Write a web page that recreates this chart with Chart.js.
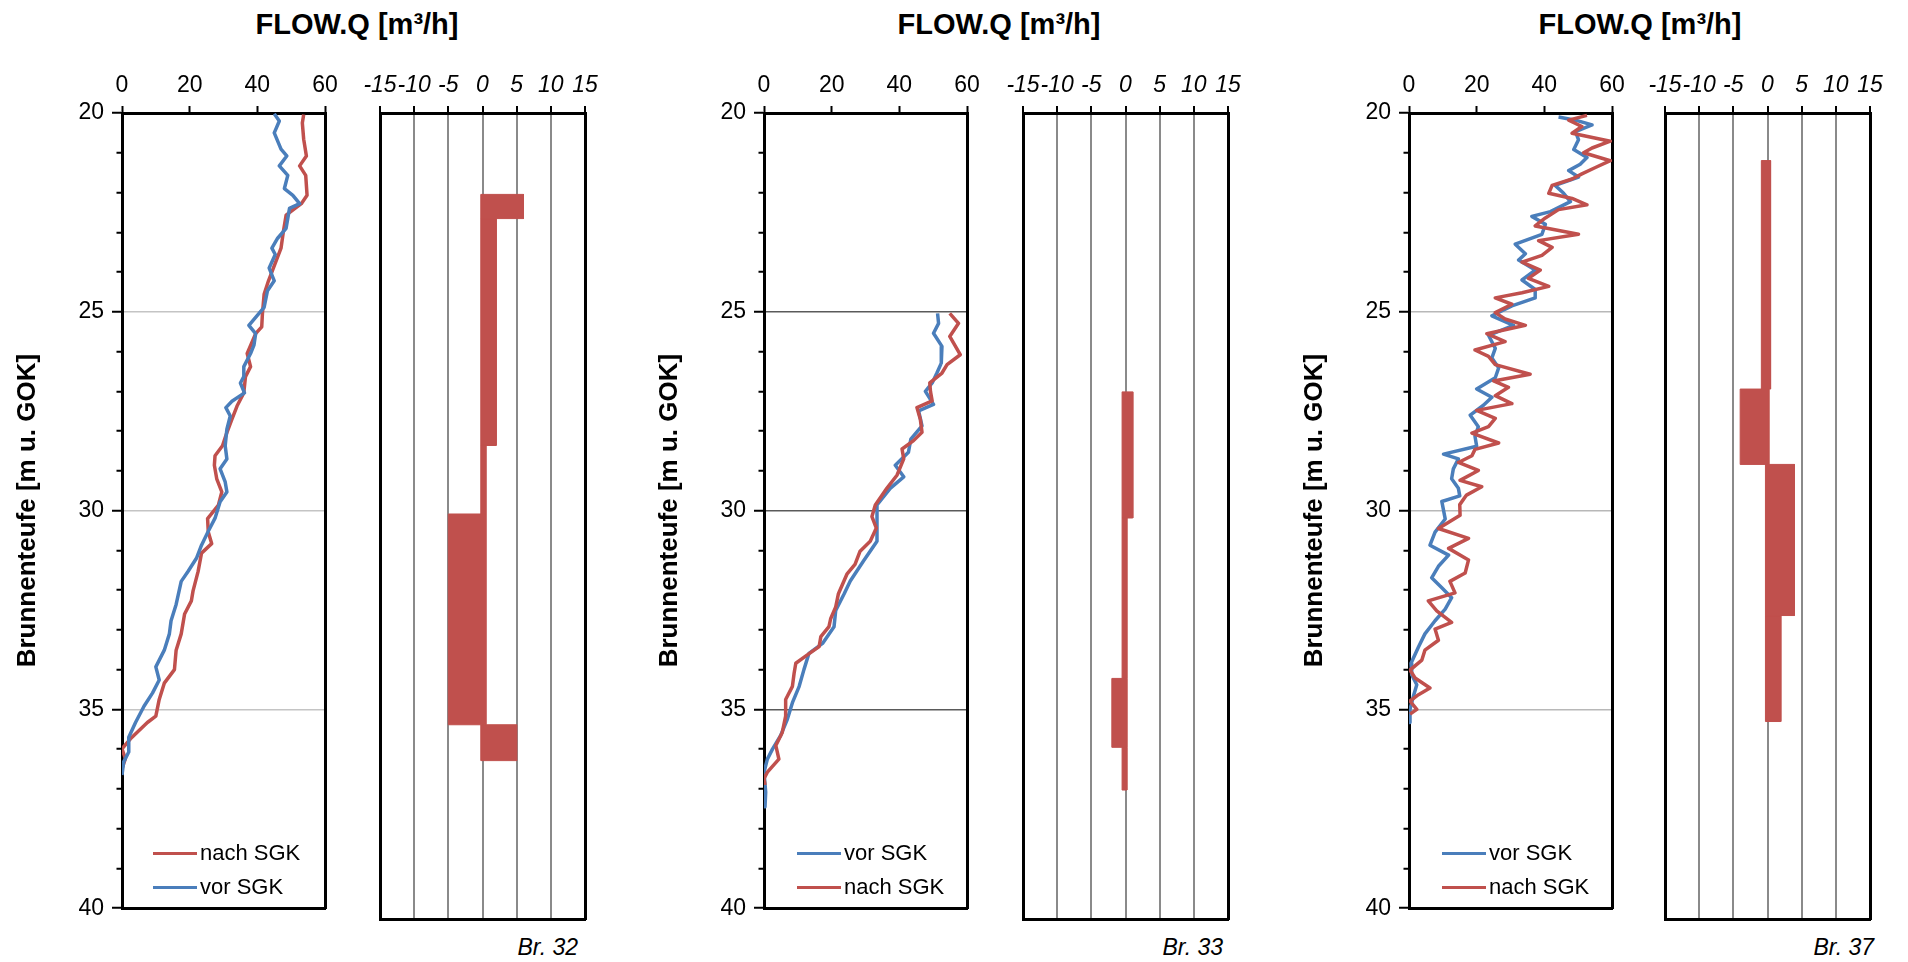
<!DOCTYPE html>
<html>
<head>
<meta charset="utf-8">
<script src="https://cdn.jsdelivr.net/npm/chart.js@4.4.1/dist/chart.umd.min.js"></script>
<style>
    body { margin: 0; background: #fff; width: 1908px; height: 962px; position: relative; overflow: hidden;
           font-family: 'Liberation Sans', Arial, sans-serif; color: #000; }
    canvas { position: absolute; top: 50px; }
    .title { position: absolute; top: 8px; font-weight: bold; font-size: 29px; transform: translateX(-50%); white-space: nowrap; }
    .legend { position: absolute; top: 836px; font-size: 22px; }
    .legend div { display: flex; align-items: center; height: 34px; }
    .legend .sw { display: inline-block; width: 44px; height: 3px; margin-right: 3px; }
    .br { position: absolute; top: 934px; font-size: 23px; font-style: italic; transform: translateX(-100%); white-space: nowrap; }
</style>
</head>
<body>
<script>
// tick labels
const depthTicks = [20, 25, 30, 35, 40];
const flowTicks = [0, 20, 40, 60];
const diffTicks = [-15, -10, -5, 0, 5, 10, 15];

// Br. 32 - FLOW.Q profiles (depth in m, flow in m3/h)
const br32NachDepth = [20.04, 20.25, 20.66, 21.08, 21.33, 21.57, 22.07, 22.28, 22.57, 22.98, 23.4, 23.73, 24.22, 24.56, 25.05, 25.38, 25.55, 26.05, 26.38, 26.63, 27.04, 27.37, 27.7, 28.04, 28.37, 28.62, 28.86, 29.2, 29.53, 29.86, 30.2, 30.54, 30.83, 31.07, 31.53, 32.02, 32.27, 32.6, 33.1, 33.51, 34.0, 34.34, 34.75, 35.17, 35.33, 35.74, 35.99, 36.24, 36.49];
const br32NachFlow = [53.7, 53.3, 53.7, 54.5, 52.5, 54.3, 54.7, 53, 48.5, 47.7, 47, 45.5, 43.3, 42, 41.5, 41.3, 39.5, 37, 38, 36.5, 36, 34, 32.5, 31, 29.7, 27.5, 27.3, 28, 29.5, 28.5, 25.3, 25.5, 26.5, 23.5, 22.5, 21, 20.5, 18.5, 17.5, 16, 15.5, 12.5, 11, 10, 7.5, 2.5, 0, 1, 0];
const br32VorDepth = [20.02, 20.2, 20.5, 20.91, 21.08, 21.33, 21.57, 21.9, 22.07, 22.28, 22.4, 22.65, 22.9, 23.15, 23.4, 23.56, 23.9, 24.22, 24.47, 24.89, 25.14, 25.34, 25.55, 25.84, 26.05, 26.38, 26.63, 26.79, 27.04, 27.25, 27.41, 27.62, 27.95, 28.37, 28.7, 28.95, 29.28, 29.53, 29.78, 30.19, 30.52, 30.87, 31.2, 31.53, 31.78, 32.36, 32.77, 33.1, 33.51, 33.93, 34.26, 34.59, 34.92, 35.33, 35.7, 36.07, 36.32, 36.65];
const br32VorFlow = [45, 46.5, 45, 47, 48.7, 46.5, 49, 48, 50.5, 52.5, 49.5, 49, 48.5, 46, 44.3, 45.3, 43.5, 45, 43, 42, 39.5, 37.5, 39.5, 39, 38, 36, 36, 35, 36.2, 32.5, 30.7, 32, 31, 30.5, 31, 29, 30.5, 31, 29, 27.5, 25.5, 23.5, 22, 19.5, 17.5, 16, 14.5, 14, 12.5, 10, 11, 9, 6.5, 4, 2, 2, 0.5, 0];
// Br. 32 - flow difference per depth interval
const br32DiffTop = [22.02, 22.62, 28.25, 29.95, 35.18];
const br32DiffBottom = [22.62, 28.25, 29.95, 35.18, 36.07];
const br32DiffLow = [-0.25, -0.25, -0.25, -5.0, -0.25];
const br32DiffHigh = [6.0, 2.0, 0.5, 0.5, 5.0];

// Br. 33
const br33VorDepth = [25.04, 25.29, 25.54, 25.87, 26.29, 26.54, 26.79, 27.0, 27.33, 27.49, 27.87, 28.2, 28.53, 28.86, 29.15, 29.44, 29.86, 30.27, 30.77, 31.27, 31.77, 32.09, 32.51, 32.92, 33.34, 33.59, 34.0, 34.42, 34.83, 35.25, 35.66, 36.0, 36.25, 36.58, 37.08, 37.45];
const br33VorFlow = [51.3, 51.6, 50.1, 52.6, 52.4, 51.1, 49.7, 47.7, 50.1, 45.7, 46.7, 43.4, 42.7, 38.8, 41.3, 37.3, 33.4, 33.4, 33.4, 29.4, 25.5, 23.7, 21.2, 20.7, 17.3, 13.3, 11.8, 10.4, 8.4, 6.9, 4.9, 2.5, 1, 0, 0.5, 0.3];
const br33NachDepth = [25.04, 25.29, 25.62, 26.08, 26.33, 26.54, 26.79, 27.0, 27.24, 27.41, 27.7, 28.03, 28.24, 28.45, 28.7, 29.11, 29.44, 29.86, 30.15, 30.44, 30.77, 31.02, 31.35, 31.6, 32.09, 32.42, 32.72, 32.92, 33.17, 33.42, 33.63, 33.84, 34.09, 34.42, 34.75, 35.17, 35.58, 35.91, 36.25, 36.58, 36.74, 36.9];
const br33NachFlow = [54.9, 57.5, 54.9, 58, 54.1, 52.6, 49, 49.2, 49.7, 45.2, 46.2, 46.7, 44.2, 40.8, 41.3, 39.3, 36.3, 32.9, 31.9, 33.2, 31.4, 28.4, 26.9, 24.5, 22, 21.2, 19.7, 19.2, 16.8, 16.3, 12.8, 9.4, 8.9, 8.4, 6.4, 6.4, 5.4, 3.5, 4.4, 1, 0, 0.3];
const br33DiffTop = [26.92, 30.05, 34.03, 35.74];
const br33DiffBottom = [30.05, 34.03, 35.74, 36.8];
const br33DiffLow = [-0.5, -0.5, -2.0, -0.5];
const br33DiffHigh = [1.07, 0.2, 0.2, 0.2];

// Br. 37
const br37VorDepth = [20.1, 20.18, 20.3, 20.47, 20.67, 20.92, 21.12, 21.29, 21.45, 21.61, 21.82, 22.02, 22.23, 22.48, 22.6, 22.8, 23.05, 23.3, 23.54, 23.7, 23.95, 24.2, 24.44, 24.65, 24.85, 25.1, 25.34, 25.59, 25.92, 26.16, 26.41, 26.66, 26.94, 27.15, 27.35, 27.6, 27.89, 28.13, 28.38, 28.58, 28.7, 28.95, 29.2, 29.44, 29.63, 29.77, 30.21, 30.54, 30.87, 31.12, 31.4, 31.69, 31.94, 32.19, 32.48, 32.77, 33.1, 33.43, 33.84, 34.13, 34.38, 34.67, 35.0, 35.33];
const br37VorFlow = [44.2, 49.2, 54.1, 49.2, 50.1, 48.7, 52.6, 50.6, 47.2, 50.1, 43.2, 45.7, 47.7, 41.8, 36.3, 40.3, 39.3, 31.4, 34.4, 32.4, 37.3, 33.4, 37.3, 37.3, 30.4, 24.5, 30.9, 23.5, 25.5, 24.5, 26.5, 25.5, 20, 24.5, 22, 18.1, 20.5, 19.5, 20, 10.2, 14.6, 13.1, 12.6, 14.6, 15, 9.7, 10.7, 7.7, 6.2, 11.7, 8.7, 6.7, 9.7, 12.6, 10.7, 7.7, 4.7, 2.8, 0.6, 0.8, 2.3, 1.3, 0.3, 0.3];
const br37NachDepth = [20.06, 20.18, 20.34, 20.51, 20.71, 20.88, 21.0, 21.2, 21.37, 21.53, 21.66, 21.82, 22.02, 22.15, 22.31, 22.43, 22.64, 22.84, 23.05, 23.21, 23.38, 23.58, 23.75, 23.95, 24.16, 24.36, 24.52, 24.65, 24.81, 25.02, 25.18, 25.34, 25.55, 25.75, 25.96, 26.12, 26.33, 26.57, 26.74, 26.9, 27.11, 27.31, 27.48, 27.68, 27.89, 28.05, 28.3, 28.46, 28.62, 28.79, 28.99, 29.24, 29.4, 29.61, 29.85, 30.12, 30.45, 30.7, 30.95, 31.24, 31.57, 31.78, 32.07, 32.27, 32.52, 32.81, 32.98, 33.26, 33.51, 33.76, 34.01, 34.21, 34.46, 34.63, 34.79, 35.0, 35.12];
const br37NachFlow = [52.6, 47.2, 51.1, 48.2, 59.5, 54.1, 51.6, 59.5, 55.1, 51.1, 48.2, 42.3, 41.3, 48.2, 52.6, 44.2, 40.3, 37.3, 50.1, 38.3, 42.3, 39.3, 33.4, 38.8, 35.3, 41.3, 33.4, 25.5, 30.4, 25.5, 28.4, 34.4, 23, 28.4, 19.5, 23.5, 25.5, 35.8, 25, 29.4, 25.5, 30.4, 20, 25.5, 23.5, 18.6, 26.5, 19.5, 18.6, 14.6, 20.5, 15.1, 21.5, 17, 15, 15.1, 8.7, 17.6, 11.7, 17.6, 16.6, 12.1, 13.6, 5.7, 8.2, 12.6, 7.7, 8.7, 4.7, 3.8, 0.3, 1.8, 6.2, 2.8, 0.3, 2.3, 0.3];
const br37DiffTop = [21.18, 26.85, 28.72, 32.47];
const br37DiffBottom = [26.85, 28.72, 32.47, 35.1];
const br37DiffLow = [-0.9, -4.0, -0.3, -0.3];
const br37DiffHigh = [0.45, 0.2, 3.95, 1.95];

const BLUE = '#4a7ebb';
const RED = '#c0504d';
const TITLE = 'FLOW.Q [m³/h]';
const Y_TITLE = 'Brunnenteufe [m u. GOK]';

const panels = [
    { name: 'Br. 32', vor: [br32VorDepth, br32VorFlow], nach: [br32NachDepth, br32NachFlow],
      diff: [br32DiffTop, br32DiffBottom, br32DiffLow, br32DiffHigh], order: ['nach', 'vor'],
      lineLeft: 122, barLeft: 380, titleX: 357, brRight: 578, legendLeft: 153, gridColor: '#c4c4c4' },
    { name: 'Br. 33', vor: [br33VorDepth, br33VorFlow], nach: [br33NachDepth, br33NachFlow],
      diff: [br33DiffTop, br33DiffBottom, br33DiffLow, br33DiffHigh], order: ['vor', 'nach'],
      lineLeft: 764, barLeft: 1023, titleX: 999, brRight: 1223, legendLeft: 797, gridColor: '#5a5a5a' },
    { name: 'Br. 37', vor: [br37VorDepth, br37VorFlow], nach: [br37NachDepth, br37NachFlow],
      diff: [br37DiffTop, br37DiffBottom, br37DiffLow, br37DiffHigh], order: ['vor', 'nach'],
      lineLeft: 1409, barLeft: 1665, titleX: 1640, brRight: 1874, legendLeft: 1442, gridColor: '#b8b8b8' }
];

Chart.defaults.font.family = "'Liberation Sans', Arial, sans-serif";
Chart.defaults.color = '#000';

const X_AXIS_H = 63, BOTTOM_H = 11, PLOT_H = 806;
const Y_AXIS_W = 122, LINE_W = 203, BAR_W = 205, BAR_PAD = 25;

function toPoints(depth, flow) {
    return depth.map((d, i) => ({ x: flow[i], y: d }));
}

function setTicks(values) {
    return scale => { scale.ticks = values.map(v => ({ value: v })); };
}

function fixSize(prop, size) {
    return scale => { scale[prop] = size; };
}

function makeCanvas(left, width) {
    const c = document.createElement('canvas');
    c.width = width;
    c.height = X_AXIS_H + PLOT_H + BOTTOM_H;
    c.style.left = left + 'px';
    document.body.appendChild(c);
    return c;
}

function frameAxes(xMin, xMax, rightW) {
    const depthAxis = { type: 'linear', reverse: true, min: 20, max: 40 };
    return {
        x2: { type: 'linear', position: 'bottom', min: xMin, max: xMax, ticks: { display: false },
              grid: { display: false, drawTicks: false }, border: { color: '#000', width: 3 },
              afterFit: fixSize('height', BOTTOM_H) },
        y2: Object.assign({ position: 'right', ticks: { display: false },
              grid: { display: false, drawTicks: false }, border: { color: '#000', width: 3 },
              afterFit: fixSize('width', rightW) }, depthAxis),
        depthAxis
    };
}

const isMajor = c => c.tick && depthTicks.includes(c.tick.value);

function drawLineChart(p) {
    const canvas = makeCanvas(p.lineLeft - Y_AXIS_W, Y_AXIS_W + LINE_W + 20);
    const series = {
        vor: { label: 'vor SGK', color: BLUE, pts: toPoints(p.vor[0], p.vor[1]) },
        nach: { label: 'nach SGK', color: RED, pts: toPoints(p.nach[0], p.nach[1]) }
    };
    const datasets = p.order.map((key, i) => ({
        label: series[key].label,
        data: series[key].pts,
        showLine: true,
        borderColor: series[key].color,
        backgroundColor: series[key].color,
        borderWidth: 3.5,
        borderJoinStyle: 'round',
        pointRadius: 0,
        tension: 0,
        order: p.order.length - 1 - i,
        xAxisID: 'x', yAxisID: 'y'
    }));
    const f = frameAxes(0, 60, 20);
    new Chart(canvas, {
        type: 'scatter',
        data: { datasets },
        options: {
            responsive: false, animation: false,
            layout: { padding: 0, autoPadding: false },
            plugins: { legend: { display: false }, tooltip: { enabled: false } },
            scales: {
                x: { type: 'linear', position: 'top', min: 0, max: 60,
                     afterBuildTicks: setTicks(flowTicks),
                     ticks: { font: { size: 23 }, padding: 7, maxRotation: 0, autoSkip: false },
                     grid: { drawOnChartArea: false, tickLength: 7, tickWidth: 2, tickColor: '#000' },
                     border: { color: '#000', width: 3 },
                     afterFit: fixSize('height', X_AXIS_H) },
                x2: f.x2,
                y: Object.assign({}, f.depthAxis, { position: 'left',
                     ticks: { font: { size: 23 }, padding: 8, autoSkip: false, stepSize: 1,
                              callback: v => depthTicks.includes(v) ? String(v) : '' },
                     grid: { color: c => (isMajor(c) && c.tick.value > 20 && c.tick.value < 40) ? p.gridColor : 'rgba(0,0,0,0)',
                             lineWidth: 1.5, tickLength: 10, tickWidth: 2, tickColor: '#000',
                             // minor ticks: skip the outer part of the tick so they are shorter
                             tickBorderDash: c => isMajor(c) ? [] : [0, 4.5, 30] },
                     border: { color: '#000', width: 3 },
                     title: { display: true, text: Y_TITLE, font: { size: 26, weight: 'bold' }, color: '#000',
                              padding: { top: 12, bottom: 0 } },
                     afterFit: fixSize('width', Y_AXIS_W) }),
                y2: f.y2
            }
        }
    });
}

function drawDiffChart(p) {
    const canvas = makeCanvas(p.barLeft - BAR_PAD, BAR_PAD + BAR_W + BAR_PAD);
    const [top, bottom, low, high] = p.diff;
    // every depth interval becomes one filled rectangle on the chart scales
    const datasets = top.map((t, i) => ({
        data: [{ x: low[i], y: t }, { x: high[i], y: t }, { x: high[i], y: bottom[i] },
               { x: low[i], y: bottom[i] }, { x: low[i], y: t }],
        showLine: true,
        fill: 'shape',
        borderColor: RED,
        backgroundColor: RED,
        borderWidth: 1,
        pointRadius: 0,
        tension: 0,
        xAxisID: 'x', yAxisID: 'y'
    }));
    const f = frameAxes(-15, 15, BAR_PAD);
    new Chart(canvas, {
        type: 'scatter',
        data: { datasets },
        options: {
            responsive: false, animation: false,
            layout: { padding: 0, autoPadding: false },
            plugins: { legend: { display: false }, tooltip: { enabled: false } },
            scales: {
                x: { type: 'linear', position: 'top', min: -15, max: 15,
                     afterBuildTicks: setTicks(diffTicks),
                     ticks: { font: { size: 23, style: 'italic' }, padding: 7, maxRotation: 0, autoSkip: false },
                     grid: { color: '#8a8a8a', lineWidth: 2, tickLength: 7, tickWidth: 2, tickColor: '#000' },
                     border: { color: '#000', width: 3 },
                     afterFit: fixSize('height', X_AXIS_H) },
                x2: f.x2,
                y: Object.assign({}, f.depthAxis, { position: 'left',
                     ticks: { display: false }, grid: { display: false, drawTicks: false },
                     border: { color: '#000', width: 3 },
                     afterFit: fixSize('width', BAR_PAD) }),
                y2: f.y2
            }
        }
    });
}

function addText(cls, text, left) {
    const d = document.createElement('div');
    d.className = cls;
    d.textContent = text;
    d.style.left = left + 'px';
    document.body.appendChild(d);
    return d;
}

function addLegend(p) {
    const box = document.createElement('div');
    box.className = 'legend';
    box.style.left = p.legendLeft + 'px';
    p.order.forEach(key => {
        const row = document.createElement('div');
        const sw = document.createElement('span');
        sw.className = 'sw';
        sw.style.background = key === 'vor' ? BLUE : RED;
        row.appendChild(sw);
        row.appendChild(document.createTextNode(key === 'vor' ? 'vor SGK' : 'nach SGK'));
        box.appendChild(row);
    });
    document.body.appendChild(box);
}

panels.forEach(p => {
    drawLineChart(p);
    drawDiffChart(p);
    addText('title', TITLE, p.titleX);
    addText('br', p.name, p.brRight);
    addLegend(p);
});
</script>
</body>
</html>
